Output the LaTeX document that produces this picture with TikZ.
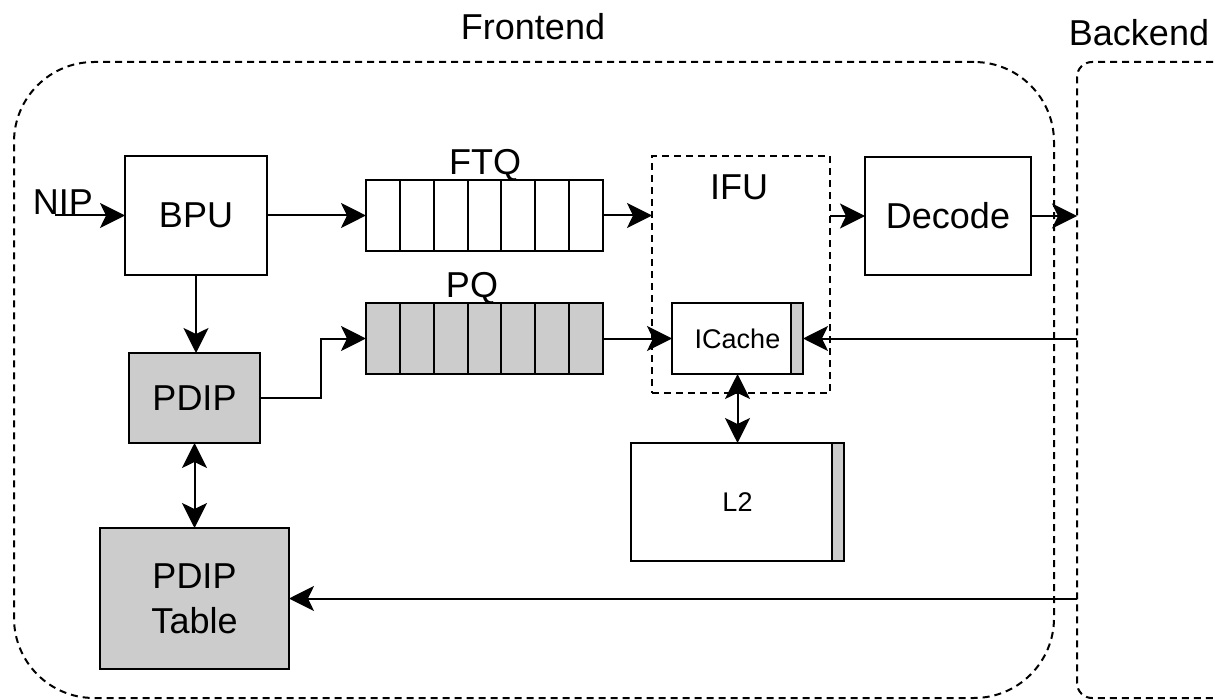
\documentclass[tikz,border=0pt]{standalone}
\usepackage{fontspec}
\setmainfont{Liberation Sans}
\usepackage{xcolor}
\usepackage{tikz}
\usetikzlibrary{arrows.meta}
\usetikzlibrary{fit}
\definecolor{boxgray}{HTML}{CCCCCC}
\tikzset{
	bigtext/.style={font=\fontsize{18}{22.5}\selectfont},
	smalltext/.style={font=\fontsize{13.5}{16}\selectfont},
	block/.style={draw, line width=1pt, inner sep=0pt, outer sep=0pt, bigtext},
	cell/.style={draw, line width=1pt, inner sep=0pt, outer sep=0pt, minimum width=16.93pt, minimum height=35.5pt},
	strip/.style={draw, line width=1pt, fill=boxgray, inner sep=0pt, outer sep=0pt, minimum width=6pt, anchor=north east},
	region/.style={draw, line width=1pt, dash pattern=on 3.5pt off 2.5pt, inner sep=0pt, outer sep=0pt},
	link/.style={line width=1pt, -{Stealth[length=12.5pt,width=12.5pt,inset=3pt]}},
	duplex/.style={line width=1pt, {Stealth[length=12.5pt,width=12.5pt,inset=3pt]}-{Stealth[length=12.5pt,width=12.5pt,inset=3pt]}}
}

\begin{document}
\begin{tikzpicture}[x=0.5pt, y=-0.5pt, node distance=16.93pt]
	 \useasboundingbox (0,0) rectangle (1215,700);
	 \node (frontend) [region, rounded corners=40pt, minimum width=520pt, minimum height=318pt] at (534,380) {};
	 \node (backend) [region, rounded corners=7.5pt, minimum width=81.5pt, minimum height=318pt] at (1158.5,380) {};
	 \node (fronttitle) [bigtext] at (533,27) {Frontend};
	 \node (backtitle) [bigtext] at (1139,33) {Backend};

	 \node (bpu) [block, minimum width=71pt, minimum height=59.5pt] at (196,215.5) {BPU};
	 \node (nip) [bigtext] at (63,202) {NIP};
	 \coordinate (nipin) at (55,215.5);

	 \node (f1) [cell] at (382.9,215.5) {};
	 \node (f2) [cell, right of=f1] {};
	 \node (f3) [cell, right of=f2] {};
	 \node (f4) [cell, right of=f3] {};
	 \node (f5) [cell, right of=f4] {};
	 \node (f6) [cell, right of=f5] {};
	 \node (f7) [cell, right of=f6] {};
	 \node (ftq) [fit=(f1)(f7), inner sep=0pt, outer sep=0pt] {};
	 \node (ftqlabel) [bigtext] at (485,165) {FTQ};

	 \node (p1) [cell, fill=boxgray] at (382.9,338.5) {};
	 \node (p2) [cell, fill=boxgray, right of=p1] {};
	 \node (p3) [cell, fill=boxgray, right of=p2] {};
	 \node (p4) [cell, fill=boxgray, right of=p3] {};
	 \node (p5) [cell, fill=boxgray, right of=p4] {};
	 \node (p6) [cell, fill=boxgray, right of=p5] {};
	 \node (p7) [cell, fill=boxgray, right of=p6] {};
	 \node (pq) [fit=(p1)(p7), inner sep=0pt, outer sep=0pt] {};
	 \node (pqlabel) [bigtext] at (472,288) {PQ};

	 \node (ifu) [region, minimum width=89pt, minimum height=118.5pt] at (741,274.5) {};
	 \node (ifulabel) [bigtext] at (739,187) {IFU};
	 \node (icache) [block, smalltext, minimum width=65.5pt, minimum height=35.5pt] at (737.5,338.5) {ICache};
	 \node (icstrip) [strip, minimum height=35.5pt] at (icache.north east) {};
	 \node (dec) [block, minimum width=83pt, minimum height=59pt] at (948,216) {Decode};

	 \node (l2) [block, smalltext, minimum width=106.5pt, minimum height=59pt] at (737.5,502) {L2};
	 \node (l2strip) [strip, minimum height=59pt] at (l2.north east) {};

	 \node (pdip) [block, fill=boxgray, minimum width=65.5pt, minimum height=45pt] at (194.5,398) {PDIP};
	 \node (pdiptable) [block, fill=boxgray, align=center, minimum width=94.5pt, minimum height=70.5pt] at (194.5,598.5) {PDIP\\Table};

	 \draw[link] (nipin) -- (nipin -| bpu.west);
	 \draw[link] (bpu) -- (ftq);
	 \draw[link] (ftq) -- (ftq -| ifu.west);
	 \draw[link] (ifu.east |- dec) -- (dec);
	 \draw[link] (dec) -- (dec -| backend.west);
	 \draw[link] (bpu.south) -- (bpu.south |- pdip.north);
	 \draw[link] (pdip.east) -- ++(61,0) |- (pq.west);
	 \draw[link] (pq) -- (icache);
	 \draw[link] (icache -| backend.west) -- (icache.east);
	 \draw[duplex] (icache) -- (l2);
	 \draw[duplex] (pdip) -- (pdiptable);
	 \draw[link] (pdiptable -| backend.west) -- (pdiptable);
\end{tikzpicture}
\end{document}
